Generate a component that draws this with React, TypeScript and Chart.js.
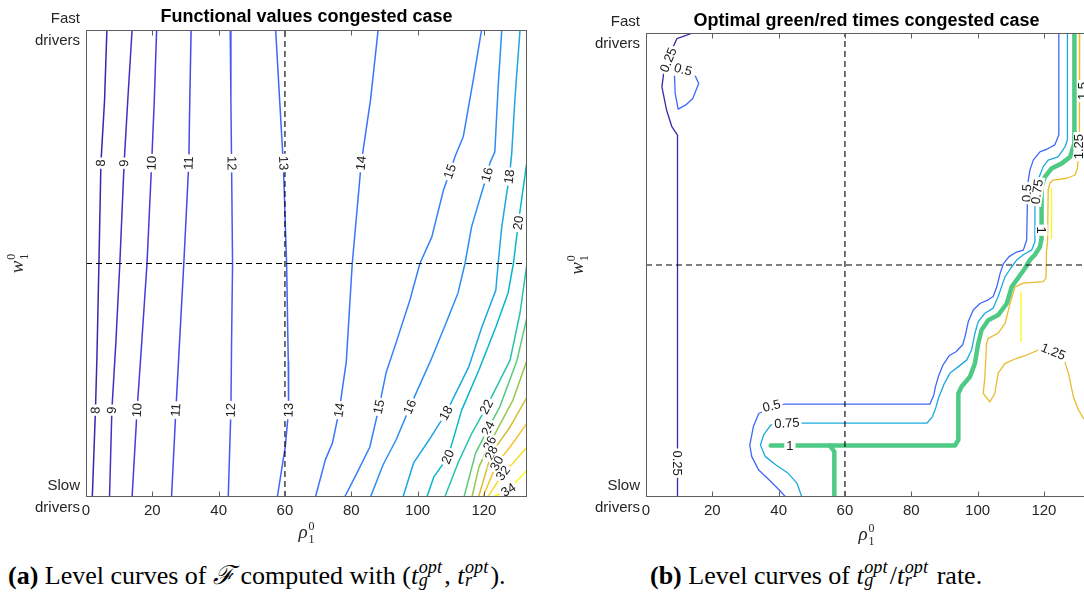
import React, { useEffect, useRef } from 'react';
import { Chart, registerables } from 'chart.js';
Chart.register(...registerables);

type Pt = [number, number];
type Lbl = { text: string; x: number; y: number; line?: Pt[]; angle?: number };

// ---------- shared axes ----------
const X_TICKS = [0, 20, 40, 60, 80, 100, 120];
const X_MIN = 0;
const X_MAX = 133;
const Y_TOP_LABEL = ['Fast', 'drivers'];
const Y_BOTTOM_LABEL = ['Slow', 'drivers'];
const RHO_REF = 60;
const W_REF = 0.5;

// ---------- (a) functional values: level curves (rho, w in [0,1] slow->fast) ----------
const F_LEVELS = [8, 9, 10, 11, 12, 13, 14, 15, 16, 18, 20, 22, 24, 26, 28, 30, 32, 34];
const F_8: Pt[] = [[6.3, 1], [5.6, 0.85], [4.5, 0.715], [3.9, 0.5], [3.3, 0.3], [2.85, 0.186], [1.9, 0]];
const F_9: Pt[] = [[13.9, 1], [12.6, 0.85], [11.5, 0.715], [10.2, 0.5], [9.0, 0.33], [7.8, 0.186], [7.1, 0]];
const F_10: Pt[] = [[21.3, 1], [20.6, 0.85], [19.8, 0.715], [18.4, 0.5], [16.8, 0.33], [15.4, 0.186], [13.9, 0]];
const F_11: Pt[] = [[31.7, 1], [31.3, 0.85], [31.0, 0.715], [29.5, 0.5], [28.2, 0.33], [27.1, 0.186], [25.8, 0]];
const F_12: Pt[] = [[43.5, 1], [43.7, 0.85], [43.9, 0.715], [44.2, 0.5], [43.9, 0.33], [43.7, 0.186], [42.9, 0]];
const F_13: Pt[] = [[57.2, 1], [58.4, 0.85], [59.5, 0.715], [60.5, 0.5], [61.0, 0.29], [61.1, 0.186], [60.1, 0.108], [57.7, 0]];
const F_14: Pt[] = [[88.1, 1], [85.8, 0.85], [83.0, 0.715], [80.3, 0.5], [78.5, 0.29], [76.4, 0.186], [74.3, 0.115], [72.2, 0.08], [69.2, 0]];
const F_15: Pt[] = [[119.3, 1], [116.8, 0.893], [113.8, 0.772], [111.3, 0.729], [109.8, 0.697], [107.8, 0.657], [104.3, 0.557], [100.7, 0.5], [97.7, 0.422], [93.5, 0.33], [90.5, 0.266], [88.4, 0.193], [85.6, 0.107], [81.7, 0.051], [78.0, 0]];
const F_16: Pt[] = [[125.4, 1], [124.3, 0.879], [123.3, 0.739], [121.8, 0.715], [121.0, 0.69], [119.3, 0.651], [116.3, 0.579], [114.3, 0.5], [112.2, 0.437], [108.1, 0.364], [104.0, 0.293], [97.7, 0.193], [93.5, 0.122], [89.6, 0.069], [85.8, 0]];
const F_18: Pt[] = [[130.9, 1], [129.4, 0.857], [128.4, 0.737], [127.7, 0.686], [126.9, 0.651], [125.4, 0.579], [124.3, 0.5], [123.6, 0.443], [119.4, 0.364], [115.4, 0.278], [108.6, 0.18], [104.0, 0.128], [98.8, 0.073], [95.6, 0]];
const F_20: Pt[] = [[133, 0.72], [132.9, 0.715], [130.4, 0.587], [128.9, 0.5], [127.3, 0.437], [123.6, 0.364], [118.5, 0.272], [113.3, 0.186], [109.2, 0.086], [104.9, 0.043], [102.8, 0]];
const F_22: Pt[] = [[133, 0.501], [130.9, 0.394], [127.9, 0.293], [120.8, 0.193], [116.4, 0.137], [112.2, 0.073], [108.2, 0]];
const F_24: Pt[] = [[133, 0.385], [130, 0.293], [124.8, 0.193], [121.3, 0.147], [117.5, 0.094], [114.0, 0]];
const F_26: Pt[] = [[133, 0.293], [128.8, 0.208], [121.8, 0.115], [118.5, 0.064], [116.4, 0]];
const F_28: Pt[] = [[133, 0.214], [127.9, 0.15], [122.3, 0.094], [118.4, 0]];
const F_30: Pt[] = [[133, 0.158], [127.9, 0.107], [123.9, 0.072], [119.7, 0]];
const F_32: Pt[] = [[133, 0.107], [128.8, 0.073], [125.8, 0.051], [121.2, 0]];
const F_34: Pt[] = [[133, 0.058], [129.7, 0.032], [127.4, 0.015], [122.7, 0]];
const F_LINES: Pt[][] = [F_8, F_9, F_10, F_11, F_12, F_13, F_14, F_15, F_16, F_18, F_20, F_22, F_24, F_26, F_28, F_30, F_32, F_34];

const F_LABELS: Lbl[] = [
  { text: '8', x: 4.5, y: 0.715, line: F_8 }, { text: '9', x: 11.5, y: 0.715, line: F_9 },
  { text: '10', x: 19.8, y: 0.715, line: F_10 }, { text: '11', x: 31.0, y: 0.715, line: F_11 },
  { text: '12', x: 43.9, y: 0.715, line: F_12 }, { text: '13', x: 59.5, y: 0.715, line: F_13 },
  { text: '14', x: 83.0, y: 0.715, line: F_14 }, { text: '15', x: 109.8, y: 0.697, line: F_15 },
  { text: '16', x: 121.0, y: 0.69, line: F_16 }, { text: '18', x: 127.7, y: 0.686, line: F_18 },
  { text: '20', x: 130.4, y: 0.587, line: F_20 },
  { text: '8', x: 2.85, y: 0.186, line: F_8 }, { text: '9', x: 7.8, y: 0.186, line: F_9 },
  { text: '10', x: 15.4, y: 0.186, line: F_10 }, { text: '11', x: 27.1, y: 0.186, line: F_11 },
  { text: '12', x: 43.7, y: 0.186, line: F_12 }, { text: '13', x: 61.1, y: 0.186, line: F_13 },
  { text: '14', x: 76.4, y: 0.186, line: F_14 }, { text: '15', x: 88.4, y: 0.193, line: F_15 },
  { text: '16', x: 97.7, y: 0.193, line: F_16 }, { text: '18', x: 108.6, y: 0.18, line: F_18 },
  { text: '20', x: 109.2, y: 0.086, line: F_20 }, { text: '22', x: 120.8, y: 0.193, line: F_22 },
  { text: '24', x: 121.3, y: 0.147, line: F_24 }, { text: '26', x: 121.8, y: 0.115, line: F_26 },
  { text: '28', x: 122.3, y: 0.094, line: F_28 }, { text: '30', x: 123.9, y: 0.072, line: F_30 },
  { text: '32', x: 125.8, y: 0.051, line: F_32 }, { text: '34', x: 127.4, y: 0.015, line: F_34 },
];

// ---------- (b) green/red ratio: level curves ----------
const R_LEVEL_MIN = 0.25;
const R_LEVEL_MAX = 1.5;
const R_025: Pt[] = [[14.1, 1], [9.35, 0.988], [7.2, 0.955], [5.5, 0.925], [5.2, 0.906], [4.8, 0.884], [6.2, 0.834], [7.8, 0.798], [9.5, 0.78], [9.5, 0]];
const R_05_LOOP: Pt[] = [[8.6, 0.907], [8.8, 0.87], [9.7, 0.836], [12.0, 0.845], [14.1, 0.859], [15.9, 0.891], [14.9, 0.907]];
const R_05: Pt[] = [[124.5, 1], [124.5, 0.78], [123.3, 0.759], [121.3, 0.751], [118.8, 0.744], [116.8, 0.726], [115.8, 0.705], [115.3, 0.683], [114.9, 0.655], [115.0, 0.623], [114.8, 0.554], [113.8, 0.532], [111.5, 0.527], [109.5, 0.518], [107.8, 0.503], [106.8, 0.482], [105.8, 0.453], [104.7, 0.432], [103.2, 0.425], [100.7, 0.417], [98.7, 0.403], [97.2, 0.378], [96.2, 0.345], [95.5, 0.328], [93.5, 0.313], [91.5, 0.305], [89.6, 0.285], [88.2, 0.26], [87.3, 0.238], [86.8, 0.22], [85.6, 0.2], [41.8, 0.2], [37.6, 0.193], [34.0, 0.18], [32.4, 0.152], [31.3, 0.112], [31.9, 0.087], [34.0, 0.058], [37.1, 0.037], [40.2, 0.015], [42.1, 0]];
const R_075: Pt[] = [[127.1, 1], [127.1, 0.77], [126.4, 0.755], [124.3, 0.733], [121.3, 0.726], [119.8, 0.712], [118.6, 0.69], [118.0, 0.658], [117.3, 0.626], [117.3, 0.55], [116.3, 0.532], [113.8, 0.522], [111.8, 0.511], [110.0, 0.493], [108.3, 0.475], [106.2, 0.432], [104.7, 0.407], [102.2, 0.396], [100.2, 0.378], [99.2, 0.353], [98.2, 0.317], [96.7, 0.295], [94.2, 0.281], [91.7, 0.267], [90.0, 0.245], [88.3, 0.215], [87.3, 0.19], [86.3, 0.172], [84.7, 0.159], [48.6, 0.159], [42.5, 0.159], [37.6, 0.155], [35.5, 0.134], [34.5, 0.112], [36.0, 0.087], [39.2, 0.069], [42.9, 0.051], [45.5, 0.03], [47.0, 0]];
const R_1: Pt[] = [[129.2, 1], [129.2, 0.762], [127.9, 0.733], [125.4, 0.719], [122.3, 0.708], [120.3, 0.69], [119.3, 0.669], [119.3, 0.575], [119.3, 0.557], [118.8, 0.539], [117.3, 0.522], [115.8, 0.511], [114.3, 0.493], [112.8, 0.478], [110.3, 0.453], [108.8, 0.417], [106.2, 0.392], [103.2, 0.381], [101.2, 0.36], [100.2, 0.331], [99.2, 0.288], [97.7, 0.259], [95.2, 0.238], [94.2, 0.223], [94.2, 0.123], [93.2, 0.111], [37.6, 0.111]];
const R_1_BRANCH: Pt[] = [[55.4, 0.111], [56.8, 0.098], [56.8, 0]];
const R_125: Pt[] = [[130.8, 1], [130.8, 0.791], [130.6, 0.755], [130.1, 0.708], [129.4, 0.694], [126.9, 0.687], [122.8, 0.683], [121.8, 0.676], [121.3, 0.662], [121.1, 0.55], [120.8, 0.532], [120.6, 0.471], [119.8, 0.464], [113.8, 0.461], [111.3, 0.453], [109.8, 0.417], [108.3, 0.374], [106.2, 0.353], [103.2, 0.342], [102.7, 0.331], [102.2, 0.259], [101.7, 0.223], [103.7, 0.205], [105.2, 0.223], [106.2, 0.267], [108.3, 0.288], [111.8, 0.299], [114.8, 0.306], [118.8, 0.318], [122.8, 0.31], [126.1, 0.295], [127.4, 0.267], [128.9, 0.216], [130.4, 0.188], [131.9, 0.17], [133, 0.16]];
const R_15_A: Pt[] = [[122.3, 0.665], [122.3, 0.557]];
const R_15_B: Pt[] = [[113.1, 0.442], [113.1, 0.335]];
const R_LEVELS = [0.25, 0.5, 0.5, 0.75, 1, 1, 1.25, 1.5, 1.5];
const R_LINES: Pt[][] = [R_025, R_05_LOOP, R_05, R_075, R_1, R_1_BRANCH, R_125, R_15_A, R_15_B];

const R_LABELS: Lbl[] = [
  { text: '0.25', x: 6.75, y: 0.942, line: R_025 },
  { text: '0.25', x: 9.5, y: 0.073, line: R_025 },
  { text: '0.5', x: 11.2, y: 0.921, angle: 15 },
  { text: '0.5', x: 114.9, y: 0.655, line: R_05 },
  { text: '0.5', x: 37.9, y: 0.196, line: R_05 },
  { text: '0.75', x: 118.0, y: 0.658, line: R_075 },
  { text: '0.75', x: 42.5, y: 0.159, line: R_075 },
  { text: '1', x: 119.3, y: 0.575, line: R_1 },
  { text: '1', x: 43.4, y: 0.111, line: R_1 },
  { text: '1.25', x: 130.7, y: 0.755, angle: -90 },
  { text: '1.25', x: 122.8, y: 0.313, angle: 22 },
  { text: '1.5', x: 131.9, y: 0.875, angle: -90 },
];

// ---------- styling helpers ----------
const PARULA_POS = [0, 5, 10, 15, 20, 25, 30, 35, 40, 45, 50, 55, 60, 63];
const PARULA: [number, number, number][] = [
  [0.2422, 0.1504, 0.6603], [0.2751, 0.2342, 0.8710], [0.2795, 0.3447, 0.9717], [0.2206, 0.4603, 0.9973],
  [0.1687, 0.5703, 0.9359], [0.1113, 0.6635, 0.8763], [0.0067, 0.7312, 0.7660], [0.1938, 0.7758, 0.6251],
  [0.3909, 0.8029, 0.4354], [0.6720, 0.7793, 0.2227], [0.9035, 0.7330, 0.1774], [0.9952, 0.7893, 0.2028],
  [0.9597, 0.9135, 0.1423], [0.9769, 0.9839, 0.0805],
];
function parula(t: number): string {
  const p = Math.max(0, Math.min(1, t)) * 63;
  let k = 0;
  while (k < PARULA_POS.length - 2 && p > PARULA_POS[k + 1]) k++;
  const f = (p - PARULA_POS[k]) / (PARULA_POS[k + 1] - PARULA_POS[k]);
  const a = PARULA[k], b = PARULA[k + 1];
  const c = [0, 1, 2].map((i) => Math.round(255 * (a[i] + (b[i] - a[i]) * f)));
  return `rgb(${c[0]},${c[1]},${c[2]})`;
}

const SANS = '"Liberation Sans", Arial, Helvetica, sans-serif';
const SERIF = '"Liberation Serif", "DejaVu Serif", "Times New Roman", serif';
const AXIS_COLOR = '#5e5e5e';
const TEXT_COLOR = '#262626';

function autoAngle(lb: Lbl, xs: any, ys: any, px: number, py: number): number {
  const pts = (lb.line || []).map(([x, y]) => [xs.getPixelForValue(x), ys.getPixelForValue(y)]);
  let ang = 0;
  let best = Infinity;
  let vk = -1;
  for (let i = 0; i < pts.length; i++) {
    const d = Math.hypot(pts[i][0] - px, pts[i][1] - py);
    if (d < best) { best = d; vk = i; }
  }
  if (vk >= 0 && best < 1.5) {
    const a = pts[Math.max(0, vk - 1)], b = pts[Math.min(pts.length - 1, vk + 1)];
    ang = Math.atan2(b[1] - a[1], b[0] - a[0]);
  } else {
    best = Infinity;
    for (let i = 0; i < pts.length - 1; i++) {
      const [x1, y1] = pts[i], [x2, y2] = pts[i + 1];
      const dx = x2 - x1, dy = y2 - y1;
      const l2 = dx * dx + dy * dy || 1;
      let t = ((px - x1) * dx + (py - y1) * dy) / l2;
      t = Math.max(0, Math.min(1, t));
      const d = Math.hypot(px - (x1 + t * dx), py - (y1 + t * dy));
      if (d < best) { best = d; ang = Math.atan2(dy, dx); }
    }
  }
  while (ang > Math.PI / 2 + 1e-9) ang -= Math.PI;
  while (ang <= -Math.PI / 2 - 1e-9) ang += Math.PI;
  return ang;
}

function drawSym(ctx: CanvasRenderingContext2D, base: string, sub: string, sup: string) {
  ctx.font = `italic 19px ${SERIF}`;
  const bw = ctx.measureText(base).width;
  ctx.font = `12px ${SERIF}`;
  const sw = Math.max(ctx.measureText(sub).width, ctx.measureText(sup).width);
  const x0 = -(bw + 1 + sw) / 2;
  ctx.textAlign = 'left';
  ctx.textBaseline = 'alphabetic';
  ctx.fillStyle = TEXT_COLOR;
  ctx.font = `italic 19px ${SERIF}`;
  ctx.fillText(base, x0, 5);
  ctx.font = `12px ${SERIF}`;
  ctx.fillText(sup, x0 + bw + 1, -3);
  ctx.fillText(sub, x0 + bw + 1, 10);
}

const decorPlugin = {
  id: 'decor',
  afterDatasetsDraw(chart: any, _args: any, opts: any) {
    const { ctx, chartArea: a, scales } = chart;
    const xs = scales.x, ys = scales.y;
    // contour labels
    ctx.save();
    ctx.beginPath();
    ctx.rect(a.left, a.top, a.right - a.left, a.bottom - a.top);
    ctx.clip();
    ctx.font = `13px ${SANS}`;
    ctx.textAlign = 'center';
    ctx.textBaseline = 'middle';
    for (const lb of opts.labels as Lbl[]) {
      const px = xs.getPixelForValue(lb.x), py = ys.getPixelForValue(lb.y);
      const ang = lb.angle !== undefined ? (lb.angle * Math.PI) / 180 : autoAngle(lb, xs, ys, px, py);
      ctx.save();
      ctx.translate(px, py);
      ctx.rotate(ang);
      const w = ctx.measureText(lb.text).width;
      ctx.fillStyle = '#ffffff';
      ctx.fillRect(-w / 2 - 2, -6, w + 4, 12);
      ctx.fillStyle = '#1a1a1a';
      ctx.fillText(lb.text, 0, 0.5);
      ctx.restore();
    }
    ctx.restore();
    // axes box and inward ticks
    ctx.save();
    ctx.strokeStyle = AXIS_COLOR;
    ctx.lineWidth = 1;
    ctx.setLineDash([]);
    const L = Math.round(a.left) + 0.5, R = Math.round(a.right) - 0.5;
    const T = Math.round(a.top) + 0.5, B = Math.round(a.bottom) - 0.5;
    ctx.strokeRect(L, T, R - L, B - T);
    ctx.beginPath();
    for (const v of X_TICKS) {
      const px = Math.round(xs.getPixelForValue(v)) + 0.5;
      ctx.moveTo(px, B); ctx.lineTo(px, B - 5);
      ctx.moveTo(px, T); ctx.lineTo(px, T + 5);
    }
    ctx.stroke();
    // title
    ctx.fillStyle = '#000';
    ctx.font = `bold 18px ${SANS}`;
    ctx.textAlign = 'center';
    ctx.textBaseline = 'middle';
    ctx.fillText(opts.title, (a.left + a.right) / 2, opts.titleY);
    // x title rho_1^0
    ctx.save();
    ctx.translate((a.left + a.right) / 2, opts.xTitleY);
    drawSym(ctx, 'ρ', '1', '0');
    ctx.restore();
    // y title w_1^0
    ctx.save();
    ctx.translate(opts.yTitleX, (a.top + a.bottom) / 2);
    ctx.rotate(-Math.PI / 2);
    drawSym(ctx, 'w', '1', '0');
    ctx.restore();
    ctx.restore();
  },
};

function buildDatasets(lines: Pt[][], colors: string[], widths: number[]) {
  const ds: any[] = [
    { data: [{ x: RHO_REF, y: 0 }, { x: RHO_REF, y: 1 }], borderColor: '#000', borderWidth: 1.1, borderDash: [6, 4] },
    { data: [{ x: X_MIN, y: W_REF }, { x: X_MAX, y: W_REF }], borderColor: '#000', borderWidth: 1.1, borderDash: [6, 4] },
  ];
  lines.forEach((pts, i) => {
    ds.push({
      data: pts.map(([x, y]) => ({ x, y })),
      borderColor: colors[i],
      borderWidth: widths[i],
      borderJoinStyle: 'round',
      borderCapStyle: 'round',
    });
  });
  return ds.map((d) => ({ ...d, showLine: true, pointRadius: 0, fill: false, tension: 0 }));
}

function makeConfig(datasets: any[], labels: Lbl[], title: string, top: number, yAxisW: number, titleY: number, xTitleY: number, yTitleX: number): any {
  return {
    type: 'scatter',
    data: { datasets },
    plugins: [decorPlugin],
    options: {
      responsive: false,
      animation: false,
      events: [],
      layout: { padding: { left: 0, top, right: 13, bottom: 0 } },
      plugins: {
        legend: { display: false },
        tooltip: { enabled: false },
        decor: { labels, title, titleY, xTitleY, yTitleX },
      },
      scales: {
        x: {
          type: 'linear', min: X_MIN, max: X_MAX,
          grid: { display: false, drawTicks: false }, border: { display: false },
          afterBuildTicks: (s: any) => { s.ticks = X_TICKS.map((v) => ({ value: v })); },
          afterFit: (s: any) => { s.height = 48; },
          ticks: { autoSkip: false, maxRotation: 0, padding: 5, color: TEXT_COLOR, font: { family: SANS, size: 15 }, callback: (v: any) => String(v) },
        },
        y: {
          type: 'linear', min: 0, max: 1,
          grid: { display: false, drawTicks: false }, border: { display: false },
          afterBuildTicks: (s: any) => { s.ticks = [{ value: 0 }, { value: 1 }]; },
          afterFit: (s: any) => { s.width = yAxisW; },
          ticks: { autoSkip: false, padding: 6, color: TEXT_COLOR, font: { family: SANS, size: 15, lineHeight: 1.5 }, callback: (v: any) => (v >= 0.5 ? Y_TOP_LABEL : Y_BOTTOM_LABEL) },
        },
      },
    },
  };
}

function TOpt({ sub }: { sub: string }) {
  return (
    <span style={{ whiteSpace: 'nowrap' }}>
      <i>t</i>
      <span style={{ display: 'inline-block', position: 'relative', width: '1.0em', height: '1em' }}>
        <i style={{ position: 'absolute', left: '0.03em', top: '0.02em', fontSize: '0.7em', lineHeight: 1 }}>opt</i>
        <i style={{ position: 'absolute', left: '0.03em', top: '0.72em', fontSize: '0.7em', lineHeight: 1 }}>{sub}</i>
      </span>
    </span>
  );
}

export default function App() {
  const leftRef = useRef<HTMLCanvasElement>(null);
  const rightRef = useRef<HTMLCanvasElement>(null);

  useEffect(() => {
    const fColors = F_LEVELS.map((v) => parula((v - F_LEVELS[0]) / (F_LEVELS[F_LEVELS.length - 1] - F_LEVELS[0])));
    const fWidths = F_LEVELS.map(() => 1.5);
    const rColors = R_LEVELS.map((v) => parula((v - R_LEVEL_MIN) / (R_LEVEL_MAX - R_LEVEL_MIN)));
    const rWidths = R_LEVELS.map((v) => (v === 1 ? 4.5 : 1.3));
    const c1 = new Chart(leftRef.current as HTMLCanvasElement, makeConfig(
      buildDatasets(F_LINES, fColors, fWidths), F_LABELS, 'Functional values congested case', 30, 86, 17, 533, 18));
    const c2 = new Chart(rightRef.current as HTMLCanvasElement, makeConfig(
      buildDatasets(R_LINES, rColors, rWidths), R_LABELS, 'Optimal green/red times congested case', 33, 106, 21, 535, 38));
    return () => { c1.destroy(); c2.destroy(); };
  }, []);

  const cap: React.CSSProperties = {
    position: 'absolute', top: 558, fontFamily: SERIF, fontSize: 26, lineHeight: '33px', color: '#000', whiteSpace: 'nowrap',
  };

  return (
    <div style={{ position: 'fixed', left: 0, top: 0, width: 1084, height: 597, overflow: 'hidden', background: '#fff' }}>
      <canvas ref={leftRef} width={540} height={545} style={{ position: 'absolute', left: 0, top: 0, width: 540, height: 545 }} />
      <canvas ref={rightRef} width={560} height={545} style={{ position: 'absolute', left: 540, top: 0, width: 560, height: 545 }} />
      <div style={{ ...cap, left: 8 }}>
        <b>(a)</b> Level curves of <i>ℱ</i> computed with (<TOpt sub="g" />, <TOpt sub="r" />).
      </div>
      <div style={{ ...cap, left: 650 }}>
        <b>(b)</b> Level curves of <TOpt sub="g" />/<TOpt sub="r" /> rate.
      </div>
    </div>
  );
}
